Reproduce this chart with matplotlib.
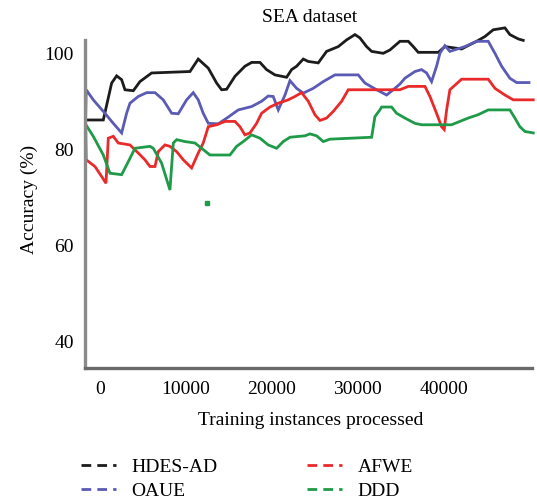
import numpy as np
import matplotlib.pyplot as plt
from matplotlib.lines import Line2D

plt.rcParams['font.family'] = ['Liberation Serif', 'DejaVu Serif']

# HDES-AD
hdes_x = [-1740, 390, 1360, 1940, 2520, 2910, 3880, 4650, 6010, 10470, 11430, 12600,
          13570, 14150, 14730, 15700, 16860, 17640, 18610, 19380, 20350, 21710, 22290,
          22870, 23650, 24230, 25390, 26360, 27720, 28690, 29660, 30240, 31010, 31600,
          32950, 33730, 34890, 35860, 36440, 37020, 39350, 40120, 42060, 43030, 43810,
          44780, 45740, 47100, 47680, 48650, 49230]
hdes_y = [86.2, 86.2, 93.9, 95.4, 94.6, 92.5, 92.3, 94.2, 96.0, 96.3, 98.9, 97.0,
          93.9, 92.5, 92.6, 95.3, 97.4, 98.2, 98.2, 96.7, 95.6, 95.1, 96.7,
          97.4, 98.9, 98.4, 98.1, 100.5, 101.5, 102.9, 104.0, 103.3, 101.5, 100.5,
          100.1, 100.8, 102.6, 102.6, 101.5, 100.3, 100.3, 101.5, 101.0, 101.9, 102.6,
          103.6, 105.0, 105.4, 104.0, 103.1, 102.8]

# OAUE
oaue_x = [-1740, -1600, -780, 580, 1550, 2520, 3100, 3490, 4460, 5430, 6400, 7360,
          8340, 9110, 10080, 10850, 11430, 12010, 12600, 13760, 14920, 16090, 17640,
          18800, 19570, 20150, 20740, 21520, 22100, 22870, 23650, 24810, 25970, 27330,
          30040, 30820, 32180, 33340, 34110, 34890, 35470, 36630, 37410, 37990, 38570,
          39150, 39540, 40120, 40700, 42450, 43810, 45160, 45940, 46720, 47680, 48460,
          49900]
oaue_y = [80.0, 92.5, 90.4, 87.6, 85.5, 83.5, 87.6, 89.7, 91.1, 91.9, 91.9, 90.4,
          87.6, 87.5, 90.4, 91.9, 90.4, 87.6, 85.5, 85.4, 86.8, 88.3, 89.0,
          90.1, 91.2, 91.1, 88.3, 91.4, 94.4, 92.8, 91.8, 92.8, 94.2, 95.6,
          95.6, 93.9, 92.5, 91.4, 92.5, 93.7, 94.9, 96.3, 96.7, 96.0, 94.2,
          97.4, 100.1, 101.7, 100.5, 101.5, 102.6, 102.6, 100.1, 97.4, 94.9, 94.0,
          94.0]

# AFWE
afwe_x = [-1740, -1600, -580, 200, 700, 970, 1550, 2130, 3490, 4460, 5230, 5820,
          6400, 6780, 7560, 8140, 8920, 9690, 10660, 11430, 12010, 12600, 13570,
          14540, 15700, 16280, 16860, 17450, 18220, 18800, 19770, 20740, 21900, 22680,
          23450, 24230, 25000, 25590, 26360, 27140, 28110, 28880, 34890, 35860, 37800,
          38380, 39150, 39730, 40040, 40320, 40700, 42060, 45160, 45940, 47100, 48070,
          50400]
afwe_y = [95.3, 77.9, 76.5, 74.4, 73.0, 82.4, 82.8, 81.4, 81.0, 79.3, 77.9, 76.5,
          76.5, 79.6, 81.0, 80.7, 79.6, 77.9, 76.2, 79.3, 81.4, 84.8, 85.2,
          85.9, 85.9, 84.8, 83.1, 83.5, 85.5, 87.6, 88.9, 89.7, 90.4, 91.1,
          91.9, 90.1, 87.3, 86.1, 86.6, 88.0, 90.1, 92.5, 92.5, 93.2, 93.2,
          91.1, 87.6, 84.8, 84.2, 88.3, 92.5, 94.7, 94.7, 92.8, 91.4, 90.4,
          90.4]

# DDD
ddd_x = [-1740, -780, 390, 1160, 2520, 3490, 4070, 5820, 6200, 7170, 8140, 8530,
         8920, 9890, 11050, 11820, 12790, 15120, 15890, 16670, 17640, 18610, 19570,
         20550, 21320, 22100, 23840, 24420, 25200, 25970, 26750, 31600, 31980, 32560,
         32760, 33920, 34500, 35470, 36630, 37410, 40890, 42830, 43990, 45160, 47680,
         48260, 48840, 49430, 50400]
ddd_y = [85.5, 82.8, 78.9, 75.1, 74.8, 78.2, 80.3, 80.7, 80.3, 77.2, 71.6, 81.4,
         82.1, 81.7, 81.4, 80.3, 78.9, 78.9, 80.7, 81.7, 83.1, 82.4, 81.0,
         80.3, 81.7, 82.6, 82.9, 83.3, 82.9, 81.7, 82.2, 82.6, 86.9, 88.3,
         88.9, 88.9, 87.6, 86.6, 85.5, 85.2, 85.2, 86.6, 87.3, 88.3, 88.3,
         86.6, 84.8, 83.8, 83.5]
ddd_stray_x = [12400]
ddd_stray_y = [68.9]

labels = ['HDES-AD', 'OAUE', 'AFWE', 'DDD']
colors = ['#1c1c1c', '#5b5bb5', '#ea2a2a', '#1e9a48']
xticks = [0, 10000, 20000, 30000, 40000]
yticks = [40, 60, 80, 100]

fig = plt.figure(figsize=(5.37, 5.01), dpi=100)
ax = fig.add_axes([85/537, 1 - 367.5/501, 450/537, 342.5/501])

series = [(hdes_x, hdes_y), (oaue_x, oaue_y), (afwe_x, afwe_y), (ddd_x, ddd_y)]
for (xs, ys), c in zip(series, colors):
    ax.plot(xs, ys, color=c, lw=2.0, solid_joinstyle='miter')
ax.plot(ddd_stray_x, ddd_stray_y, 's', color=colors[3], ms=2.5)

ax.set_xlim(-1740, 50600)
ax.set_ylim(34.6, 106.0)
ax.set_xticks(xticks)
ax.set_xticklabels([str(t) for t in xticks])
ax.set_yticks(yticks)
ax.tick_params(length=0, labelsize=14)
ax.tick_params(axis='y', pad=8)
ax.tick_params(axis='x', pad=10)

for s in ['top', 'right']:
    ax.spines[s].set_visible(False)
ax.spines['left'].set_color('#8a8a8a')
ax.spines['left'].set_linewidth(2.4)
ax.spines['left'].set_bounds(34.6, 102.9)
ax.spines['bottom'].set_color('#6a6a6a')
ax.spines['bottom'].set_linewidth(2.4)
ax.spines['bottom'].set_bounds(-1740, 50240)

ax.set_xlabel('Training instances processed', fontsize=14)
ax.xaxis.set_label_coords(0.502, -0.13)
ax.set_ylabel('Accuracy (%)', fontsize=14)
ax.yaxis.set_label_coords(-0.104, 0.49)

fig.text(310/537, 1 - 18/501, 'SEA dataset', ha='center', va='center', fontsize=14)

handles = [Line2D([], [], color=c, lw=2.0, ls=(0, (3.5, 2.2))) for c in colors]
fig.legend(handles, labels, ncol=2, frameon=False, fontsize=14,
           loc='upper left', bbox_to_anchor=(81/537, 1 - 458/501),
           borderpad=0, borderaxespad=0, handlelength=1.8, handletextpad=0.8,
           columnspacing=4.6, labelspacing=0.35)

fig.savefig('out.png', dpi=100)
